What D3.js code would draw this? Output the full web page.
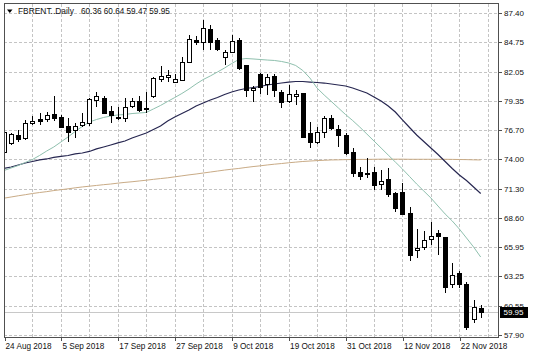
<!DOCTYPE html>
<html><head><meta charset="utf-8">
<script src="https://cdn.jsdelivr.net/npm/d3@7"></script>
<style>
body{margin:0;background:#fff}
svg{display:block}
text{font-family:"Liberation Sans",Arial,sans-serif}
</style>
</head><body>
<svg id="c" width="536" height="358"></svg>
<script>
// ---------------- data ----------------
const symbolName = "FBRENT..Daily";
const lastOHLC = [60.36, 60.64, 59.47, 59.95];
const lastPrice = 59.95;
const dateLabels = ["24 Aug 2018","5 Sep 2018","17 Sep 2018","27 Sep 2018","9 Oct 2018","19 Oct 2018","31 Oct 2018","12 Nov 2018","22 Nov 2018"];
const dateLabelBars = [0,8,16,24,32,40,48,56,64];
const gridBars = [4,8,12,16,20,24,28,32,36,40,44,48,52,56,60,64,68];
const priceTicks = [87.40,84.75,82.05,79.35,76.70,74.00,71.30,68.60,65.95,63.25,60.55,57.90];

const open  = [74.67,75.50,76.23,75.93,77.30,77.70,77.72,78.16,77.85,77.06,
               76.69,77.15,77.30,79.44,79.65,78.43,77.84,77.76,78.92,79.38,
               78.74,79.81,81.34,81.51,81.14,81.28,82.96,84.95,84.77,85.96,
               84.99,83.43,83.82,84.95,82.61,80.33,81.80,80.88,81.65,80.20,
               79.35,79.83,80.06,76.39,75.56,76.53,77.76,76.75,76.23,74.70,
               72.81,72.65,72.86,71.69,72.19,70.88,71.04,69.04,65.63,65.95,
               66.64,67.24,66.84,62.51,63.56,62.51,59.30,60.36];
const high  = [76.78,76.41,76.69,77.61,77.97,78.25,78.37,79.81,78.07,77.76,
               77.30,78.25,79.63,80.20,79.81,78.89,78.83,79.60,79.60,79.81,
               80.20,81.58,82.54,82.20,81.83,83.42,85.41,85.36,86.79,86.37,
               85.10,83.99,85.44,85.16,82.65,80.76,81.89,81.80,81.80,80.36,
               80.85,80.36,80.13,77.45,76.99,77.95,78.07,77.15,76.39,75.01,
               73.32,74.09,73.32,73.01,73.17,71.03,71.80,69.59,67.60,67.46,
               68.29,67.54,66.91,64.45,63.75,62.74,61.09,60.64];
const low   = [74.49,75.31,75.59,75.77,77.15,77.15,77.45,77.54,76.84,75.61,
               75.93,76.99,77.06,78.77,78.20,77.36,77.61,77.45,78.68,78.37,
               78.22,79.67,81.12,81.12,80.96,81.19,82.81,84.49,83.99,84.03,
               83.94,82.61,83.73,82.20,79.75,79.29,79.99,79.90,79.75,78.68,
               79.14,78.98,75.93,75.01,75.40,75.93,76.69,75.16,74.40,72.40,
               72.10,72.26,71.18,71.18,70.54,69.19,68.89,64.66,64.94,65.67,
               66.13,65.17,61.73,62.23,62.19,58.33,58.97,59.47];
const close = [76.51,76.32,75.86,77.36,77.54,77.51,78.07,77.76,76.99,76.53,
               77.06,77.45,79.51,79.81,78.28,78.07,77.88,78.77,79.35,78.52,
               78.64,81.43,81.60,81.74,81.37,82.96,85.01,84.74,86.02,84.79,
               84.08,83.87,84.86,82.35,80.36,80.57,80.66,81.58,80.36,79.29,
               79.97,80.02,76.07,75.61,76.48,77.76,76.84,76.19,74.55,72.71,
               72.49,72.71,71.64,72.01,70.81,69.57,69.02,65.19,65.90,66.59,
               66.93,66.93,62.32,63.38,62.55,58.65,60.44,59.95];

const maFast = [72.97,73.20,73.43,73.71,73.98,74.35,74.76,75.13,75.59,76.05,
                76.55,77.01,77.42,77.65,77.84,77.97,78.07,78.11,78.20,78.25,
                78.30,78.62,78.94,79.31,79.67,80.04,80.45,80.91,81.32,81.65,
                82.01,82.38,82.79,83.16,83.25,83.21,83.16,83.11,83.07,82.98,
                82.84,82.61,82.15,81.46,80.54,79.90,79.31,78.71,78.11,77.56,
                76.96,76.32,75.68,75.04,74.39,73.75,73.11,72.42,71.73,71.09,
                70.45,69.71,68.98,68.34,67.60,66.78,65.95,65.03];
const maMid  = [73.16,73.29,73.48,73.66,73.80,73.94,74.03,74.17,74.26,74.35,
                74.49,74.58,74.72,74.95,75.13,75.31,75.50,75.68,75.95,76.18,
                76.41,76.74,77.06,77.52,77.88,78.20,78.52,78.89,79.17,79.44,
                79.67,79.95,80.18,80.36,80.50,80.59,80.68,80.82,80.91,81.00,
                81.09,81.14,81.14,81.09,81.05,81.00,80.91,80.82,80.73,80.54,
                80.31,80.09,79.72,79.35,78.89,78.34,77.61,76.92,76.23,75.63,
                75.04,74.44,73.80,73.16,72.56,72.05,71.46,70.86];
const maSlow = [70.43,70.54,70.65,70.75,70.86,70.95,71.03,71.13,71.21,71.29,
                71.38,71.46,71.53,71.60,71.67,71.73,71.81,71.88,71.94,72.01,
                72.08,72.16,72.23,72.30,72.39,72.48,72.57,72.65,72.74,72.83,
                72.92,73.01,73.09,73.16,73.25,73.33,73.40,73.48,73.55,73.61,
                73.68,73.74,73.80,73.84,73.88,73.91,73.94,73.95,73.97,73.98,
                73.99,73.99,74.00,74.01,74.01,74.01,74.01,74.00,74.00,74.00,
                74.00,74.00,74.00,73.99,73.98,73.97,73.95,73.94];

// ---------------- layout ----------------
const W = 536, H = 358;
const L = 4, R = 498, T = 3.5, B = 337;
const svg = d3.select("#c");
svg.append("rect").attr("width", W).attr("height", H).attr("fill", "#fff");

const x = d3.scaleLinear().domain([0, 67]).range([4, 480.7]);
const y = d3.scaleLinear().domain([57.90, 87.40]).range([334.7, 13.3]);
const px = v => Math.round(v) + 0.5;

const grid = svg.append("g").attr("stroke", "#c4c4c4").attr("stroke-dasharray", "3,2").attr("shape-rendering", "crispEdges");
grid.selectAll("line.h").data(priceTicks).join("line").attr("class", "h")
  .attr("x1", L).attr("x2", R).attr("y1", d => px(y(d))).attr("y2", d => px(y(d)));
grid.selectAll("line.v").data(gridBars).join("line").attr("class", "v")
  .attr("y1", T).attr("y2", B).attr("x1", d => px(x(d))).attr("x2", d => px(x(d)));

// current price line
svg.append("line").attr("x1", L).attr("x2", R)
  .attr("y1", px(y(lastPrice))).attr("y2", px(y(lastPrice)))
  .attr("stroke", "#c8c8c8").attr("shape-rendering", "crispEdges");

// moving averages
const idx = d3.range(open.length);
const lineGen = arr => d3.line().x(i => x(i)).y(i => y(arr[i]))(idx);
svg.append("path").attr("d", lineGen(maSlow)).attr("fill", "none").attr("stroke", "#c9ab86").attr("stroke-width", 1);
svg.append("path").attr("d", lineGen(maMid)).attr("fill", "none").attr("stroke", "#262650").attr("stroke-width", 1.2);
svg.append("path").attr("d", lineGen(maFast)).attr("fill", "none").attr("stroke", "#8fc0ae").attr("stroke-width", 1);

// candles
const cg = svg.append("g").attr("shape-rendering", "crispEdges");
const candles = cg.selectAll("g").data(idx).join("g");
candles.append("line")
  .attr("x1", i => px(x(i))).attr("x2", i => px(x(i)))
  .attr("y1", i => Math.round(y(high[i]))).attr("y2", i => Math.round(y(low[i])))
  .attr("stroke", "#000");
candles.append("rect")
  .attr("x", i => Math.round(x(i)) - 1.5)
  .attr("width", 4)
  .attr("y", i => Math.round(y(Math.max(open[i], close[i]))) + 0.5)
  .attr("height", i => Math.max(1, Math.round(y(Math.min(open[i], close[i]))) - Math.round(y(Math.max(open[i], close[i])))))
  .attr("fill", i => close[i] >= open[i] ? "#fff" : "#000")
  .attr("stroke", "#000");

// clip-ish: cover anything left of plot
svg.append("rect").attr("x", 0).attr("y", 0).attr("width", L).attr("height", H).attr("fill", "#fff");

// border
svg.append("rect").attr("x", L + 0.5).attr("y", T).attr("width", R - L - 0.5).attr("height", B - T)
  .attr("fill", "none").attr("stroke", "#505050").attr("shape-rendering", "crispEdges");

// right axis
const yAxis = d3.axisRight(y).tickValues(priceTicks).tickSize(3).tickPadding(2.5).tickFormat(d3.format(".2f"));
const ya = svg.append("g").attr("transform", `translate(${R + 0.5},0)`).call(yAxis);
ya.select(".domain").remove();
ya.selectAll("line").attr("stroke", "#505050").attr("shape-rendering", "crispEdges");
ya.selectAll("text").attr("font-size", "8px").attr("fill", "#111").attr("font-family", '"Liberation Sans",Arial,sans-serif');

// bottom axis
const xAxis = d3.axisBottom(x).tickValues(dateLabelBars).tickSize(4).tickPadding(2).tickFormat((d, i) => dateLabels[i]);
const xa = svg.append("g").attr("transform", `translate(0.5,${B})`).call(xAxis);
xa.select(".domain").remove();
xa.selectAll("line").attr("stroke", "#505050").attr("shape-rendering", "crispEdges");
xa.selectAll("text").attr("font-size", "8.2px").attr("fill", "#111").attr("text-anchor", "start").attr("dx", "0.5")
  .attr("font-family", '"Liberation Sans",Arial,sans-serif');

// last price label
const ly = y(lastPrice);
svg.append("rect").attr("x", 500).attr("y", Math.round(ly) - 5).attr("width", 28).attr("height", 11).attr("fill", "#000");
svg.append("text").attr("x", 503.5).attr("y", ly).attr("dy", "0.35em").attr("font-size", "8px")
  .attr("fill", "#fff").text(d3.format(".2f")(lastPrice));

// title
svg.append("path").attr("d", "M7,9.5 L12.5,9.5 L9.75,13 Z").attr("fill", "#000");
svg.append("text").attr("x", 18).attr("y", 13.5).attr("font-size", "8.4px").attr("fill", "#111").text(symbolName);
svg.append("text").attr("x", 81).attr("y", 13.5).attr("font-size", "8.2px").attr("fill", "#111")
  .text(lastOHLC.map(d3.format(".2f")).join(" "));
</script>
</body></html>
